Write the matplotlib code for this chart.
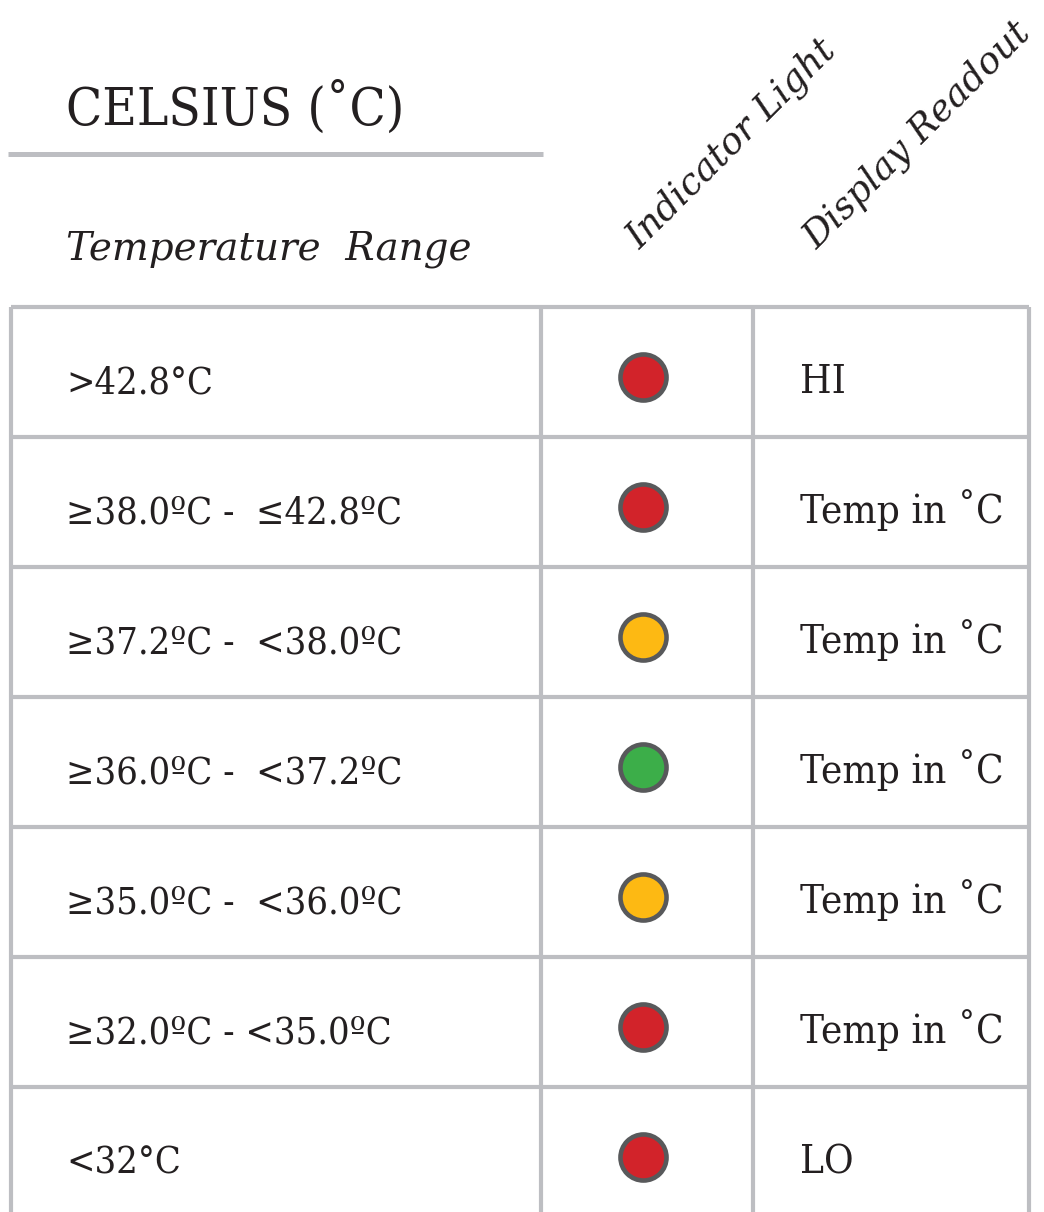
import matplotlib.pyplot as plt

# table content
ranges = ['>42.8°C', '≥38.0ºC -  ≤42.8ºC', '≥37.2ºC -  <38.0ºC', '≥36.0ºC -  <37.2ºC',
          '≥35.0ºC -  <36.0ºC', '≥32.0ºC - <35.0ºC', '<32°C']
light_colors = ['#d2232a', '#d2232a', '#fdb913', '#3cae49', '#fdb913', '#d2232a', '#d2232a']
readouts = ['HI', 'Temp in ˚C', 'Temp in ˚C', 'Temp in ˚C', 'Temp in ˚C', 'Temp in ˚C', 'LO']

title = 'CELSIUS (˚C)'
subtitle = 'Temperature  Range'
col_headers = ['Indicator Light', 'Display Readout']

GRID = '#bdbec2'
INK = '#231f20'
FONT = 'DejaVu Serif'

fig = plt.figure(figsize=(10.44, 12.12), dpi=100)
ax = fig.add_axes([0, 0, 1, 1])
ax.set_xlim(0, 1044)
ax.set_ylim(1212, 0)
ax.axis('off')

# header
ax.text(66, 125, title, fontsize=38, family=FONT, fontstretch='condensed',
        color=INK, va='baseline', ha='left')
ax.plot([8, 543], [154, 154], color=GRID, lw=3.6, solid_capstyle='butt')
ax.text(66, 260, subtitle, fontsize=28, family=FONT, style='italic',
        color=INK, va='baseline', ha='left')
for x, lab in zip([640, 817], col_headers):
    ax.text(x, 250, lab, fontsize=26.5, family=FONT, style='italic',
            color=INK, rotation=45, rotation_mode='anchor', va='baseline', ha='left')

# grid
top, row_h = 307, 130
n = len(ranges)
col_x = [11, 541, 753, 1029]
ax.hlines([top + i * row_h for i in range(n + 1)], col_x[0], col_x[-1], color=GRID, lw=3)
ax.vlines(col_x, top, top + n * row_h, color=GRID, lw=3)

# rows
for i, (r, c, d) in enumerate(zip(ranges, light_colors, readouts)):
    y0 = top + i * row_h
    ax.text(66, y0 + 86, r, fontsize=27.2, family=FONT, fontstretch='condensed',
            color=INK, va='baseline', ha='left')
    ax.scatter([643], [y0 + 70], s=1100, color=c, edgecolors='#58595b', linewidths=3.3, zorder=3)
    ax.text(800, y0 + 86, d, fontsize=29, family=FONT, fontstretch='condensed',
            color=INK, va='baseline', ha='left')

fig.savefig('out.png', dpi=100)
